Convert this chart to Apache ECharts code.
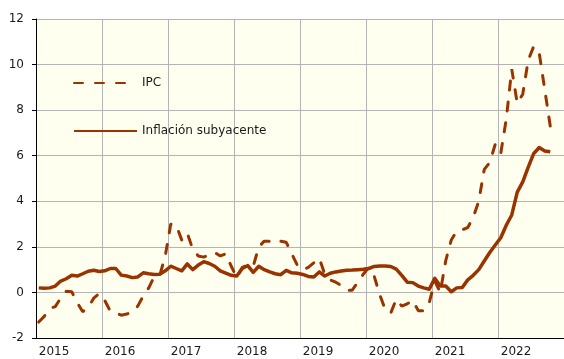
<!DOCTYPE html>
<html>
<head>
<meta charset="utf-8">
<script src="https://cdn.jsdelivr.net/npm/echarts@6/dist/echarts.min.js"></script>
<style>
  html, body { margin: 0; padding: 0; background: #ffffff; }
  #chart { width: 564px; height: 359px; }
</style>
</head>
<body>
<div id="chart"></div>
<script>
// Monthly periods, January 2015 to December 2022
const years = ['2015', '2016', '2017', '2018', '2019', '2020', '2021', '2022'];
const monthCodes = ['01', '02', '03', '04', '05', '06', '07', '08', '09', '10', '11', '12'];
const months = [];
years.forEach(function (y) { monthCodes.forEach(function (m) { months.push(y + '-' + m); }); });

// IPC, annual rate (%)
const ipc = [
  -1.3, -1.05, -0.7, -0.62, -0.25, 0.05, 0.03, -0.45, -0.85, -0.65, -0.25, -0.05,
  -0.35, -0.82, -0.9, -1.0, -0.95, -0.85, -0.6, -0.15, 0.2, 0.7, 0.75, 1.6,
  3.0, 2.95, 2.3, 2.6, 1.9, 1.6, 1.55, 1.65, 1.75, 1.6, 1.7, 1.15,
  0.65, 1.1, 1.2, 1.15, 2.0, 2.25, 2.25, 2.2, 2.25, 2.2, 1.7, 1.2,
  1.0, 1.1, 1.3, 1.5, 0.8, 0.55, 0.45, 0.3, 0.1, 0.1, 0.45, 0.8,
  1.1, 0.7, -0.1, -0.75, -0.9, -0.3, -0.6, -0.5, -0.35, -0.8, -0.8, -0.45,
  0.5, 0.0, 1.4, 2.3, 2.7, 2.75, 2.85, 3.3, 4.0, 5.4, 5.7, 6.5,
  6.1, 7.6, 9.8, 8.3, 8.7, 10.2, 10.8, 10.5, 8.9, 7.3
];

// Inflación subyacente, annual rate (%)
const subyacente = [
  0.2, 0.18, 0.2, 0.28, 0.5, 0.6, 0.75, 0.72, 0.82, 0.93, 0.97, 0.92,
  0.95, 1.05, 1.05, 0.76, 0.72, 0.65, 0.68, 0.86, 0.82, 0.79, 0.8, 0.95,
  1.15, 1.05, 0.95, 1.25, 1.0, 1.2, 1.35, 1.27, 1.15, 0.95, 0.85, 0.75,
  0.72, 1.05, 1.18, 0.88, 1.15, 1.0, 0.9, 0.82, 0.78, 0.97, 0.86, 0.84,
  0.79, 0.7, 0.68, 0.9, 0.72, 0.84, 0.9, 0.94, 0.97, 0.98, 1.0, 1.02,
  1.05, 1.14, 1.16, 1.16, 1.14, 1.02, 0.75, 0.45, 0.43, 0.28, 0.2, 0.14,
  0.62, 0.28, 0.28, 0.03, 0.2, 0.22, 0.55, 0.75, 1.0, 1.38, 1.75, 2.08,
  2.4, 2.95, 3.4, 4.4, 4.85, 5.5, 6.1, 6.36, 6.21, 6.17
];

// y-axis range and step
const yMin = -2, yMax = 12, yStep = 2;

const lineColor = '#993300';
const font = 'DejaVu Sans, Verdana, sans-serif';
const isYearStart = function (idx) { return idx % 12 === 0; };

const chart = echarts.init(document.getElementById('chart'), null, { renderer: 'canvas' });
chart.setOption({
  backgroundColor: '#ffffff',
  animation: false,
  grid: {
    left: 36, top: 19, width: 532, height: 319,
    show: true, backgroundColor: '#FFFFF0', borderWidth: 0
  },
  legend: {
    orient: 'vertical',
    left: 73, top: 77,
    padding: 0,
    itemWidth: 63, itemHeight: 14, itemGap: 36, itemTextGap: 5,
    // line-only keys: hide the marker symbol drawn on top of the line
    itemStyle: { color: 'rgba(0,0,0,0)', borderWidth: 0, opacity: 0 },
    textStyle: { fontFamily: font, fontSize: 12, color: '#1a1a1a' },
    data: ['IPC', 'Inflación subyacente']
  },
  xAxis: {
    type: 'category',
    data: months,
    boundaryGap: true,
    axisLine: { show: true, onZero: false, lineStyle: { color: '#000000', width: 1 } },
    axisTick: { show: false },
    axisLabel: {
      interval: isYearStart,
      align: 'left',
      margin: 8,
      formatter: function (v) { return v.slice(0, 4); },
      fontFamily: font, fontSize: 12, color: '#1a1a1a'
    },
    splitLine: { show: true, interval: isYearStart, lineStyle: { color: '#b4b4b4', width: 1 } }
  },
  yAxis: {
    type: 'value',
    min: yMin, max: yMax, interval: yStep,
    axisLine: { show: true, lineStyle: { color: '#000000', width: 1 } },
    axisTick: { show: true, length: 4, lineStyle: { color: '#000000' } },
    axisLabel: { margin: 12, fontFamily: font, fontSize: 12, color: '#1a1a1a' },
    splitLine: { show: true, lineStyle: { color: '#b4b4b4', width: 1 } }
  },
  series: [
    {
      name: 'IPC',
      type: 'line',
      data: ipc,
      symbol: 'none',
      lineStyle: { color: lineColor, width: 3, type: [9, 12], cap: 'round' },
      itemStyle: { color: lineColor },
      z: 2
    },
    {
      name: 'Inflación subyacente',
      type: 'line',
      data: subyacente,
      symbol: 'none',
      lineStyle: { color: lineColor, width: 3.5, join: 'round' },
      itemStyle: { color: lineColor },
      z: 3
    }
  ]
});
</script>
</body>
</html>
